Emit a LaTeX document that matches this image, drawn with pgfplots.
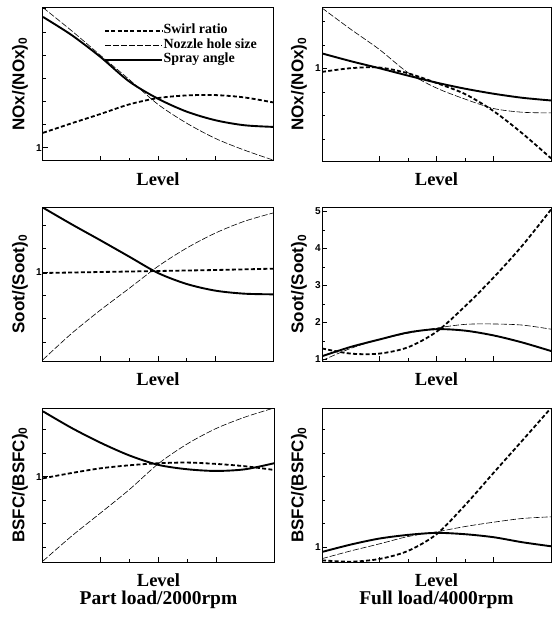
\documentclass[border=0pt]{standalone}
\usepackage{fontspec}
\setmainfont{Liberation Serif}
\newfontfamily\sansf{Liberation Sans}
\usepackage{pgfplots}
\pgfplotsset{compat=1.18}
\begin{document}
\begin{tikzpicture}
\useasboundingbox (0,0) rectangle (557pt,-621pt);
\pgfplotsset{
 panel/.style={scale only axis, height=154pt, anchor=north west,
   xmin=0, xmax=4, xtick={1,2,3}, xticklabels={}, minor x tick num=1,
   tick pos=left, tick align=inside, major tick length=5pt, minor tick length=3pt,
   axis line style={line width=1pt}, tick style={line width=0.6pt, black},
   ytick={1}, minor ytick={0.72,0.79,0.86,0.93,1.07,1.14,1.21,1.28,1.35,1.42},
   /pgf/number format/assume math mode=true,
   yticklabel style={font=\sansf\bfseries\fontsize{10}{12}\selectfont, inner sep=1pt},
   xlabel={Level},
   xlabel style={font=\bfseries\fontsize{18.5}{20}\selectfont, at={(axis description cs:0.5,-0.115)}, anchor=center},
   ylabel style={font=\sansf\bfseries\fontsize{17}{19}\selectfont, at={(axis description cs:-0.1,0.5)}, anchor=center}},
 swirl/.style={black, line width=1.8pt, dash pattern=on 4pt off 2.3pt, smooth},
 nozzle/.style={black, line width=0.6pt, dash pattern=on 6pt off 2pt, smooth},
 spray/.style={black, line width=1.9pt, smooth},
}
% ---------- Panel 1: NOx part load
\begin{axis}[panel, at={(43pt,-7pt)}, width=230pt, ymin=0.96, ymax=1.425,
  ylabel={NOx/(NOx)\textsubscript{0}},
  legend style={at={(axis description cs:0.265,0.895)}, anchor=north west, draw=none, fill=none,
    font=\bfseries\fontsize{14}{15}\selectfont, cells={anchor=west}, row sep=0pt, inner sep=0pt,
    nodes={inner sep=0.5pt, text height=10pt, text depth=3.5pt}},
  legend image code/.code={\draw[#1] (0pt,0pt) -- (57pt,0pt);}]
\addplot[swirl] coordinates {(0,1.045) (0.5,1.074) (1,1.102) (1.5,1.131) (2,1.150) (2.5,1.158) (3,1.159) (3.5,1.152) (4,1.137)};
\addlegendentry{Swirl ratio}
\addplot[nozzle] coordinates {(0,1.423) (0.5,1.353) (1,1.279) (1.5,1.206) (2,1.131) (2.5,1.074) (3,1.028) (3.5,0.993) (4,0.963)};
\addlegendentry{Nozzle hole size}
\addplot[spray] coordinates {(0,1.395) (0.5,1.340) (1,1.274) (1.5,1.200) (2,1.148) (2.5,1.109) (3,1.083) (3.5,1.068) (4,1.063)};
\addlegendentry{Spray angle}
\end{axis}
% ---------- Panel 2: NOx full load
\begin{axis}[panel, at={(322pt,-7pt)}, width=229pt, ymin=0.725, ymax=1.183,
  ylabel={NOx/(NOx)\textsubscript{0}}]
\addplot[swirl] coordinates {(0,0.990) (0.5,1.001) (1,1.003) (1.5,0.986) (2,0.957) (2.5,0.924) (3,0.873) (3.5,0.807) (4,0.733)};
\addplot[nozzle] coordinates {(0,1.180) (0.5,1.117) (1,1.057) (1.5,0.988) (2,0.942) (2.5,0.909) (3,0.881) (3.5,0.870) (4,0.868)};
\addplot[spray] coordinates {(0,1.045) (0.5,1.022) (1,1.001) (1.5,0.979) (2,0.958) (2.5,0.940) (3,0.925) (3.5,0.913) (4,0.905)};
\end{axis}
% ---------- Panel 3: Soot part load
\begin{axis}[panel, at={(43pt,-207pt)}, width=230pt, ymin=0.733, ymax=1.195,
  ylabel={Soot/(Soot)\textsubscript{0}}]
\addplot[swirl] coordinates {(0,0.997) (1,1.000) (2,1.003) (3,1.006) (4,1.010)};
\addplot[nozzle] coordinates {(0,0.737) (0.5,0.816) (1,0.886) (1.5,0.951) (2,1.017) (2.5,1.072) (3,1.117) (3.5,1.152) (4,1.177)};
\addplot[spray] coordinates {(0,1.193) (0.5,1.143) (1,1.095) (1.5,1.046) (2,0.997) (2.5,0.964) (3,0.944) (3.5,0.935) (4,0.933)};
\end{axis}
% ---------- Panel 4: Soot full load
\begin{axis}[panel, at={(322pt,-207pt)}, width=229pt, ymin=0.96, ymax=5.12,
  ytick={1,2,3,4,5}, minor ytick={1.5,2.5,3.5,4.5},
  ylabel={Soot/(Soot)\textsubscript{0}}]
\addplot[swirl] coordinates {(0,1.30) (0.5,1.16) (1,1.16) (1.5,1.33) (2,1.75) (2.5,2.44) (3,3.22) (3.5,4.08) (4,5.05)};
\addplot[nozzle] coordinates {(0,0.973) (0.5,1.30) (1,1.54) (1.5,1.71) (2,1.85) (2.5,1.95) (3,1.96) (3.5,1.93) (4,1.82)};
\addplot[spray] coordinates {(0,1.09) (0.5,1.34) (1,1.54) (1.5,1.73) (2,1.82) (2.5,1.78) (3,1.65) (3.5,1.46) (4,1.23)};
\end{axis}
% ---------- Panel 5: BSFC part load
\begin{axis}[panel, at={(43pt,-408pt)}, width=231pt, ymin=0.745, ymax=1.205, name=p5,
  ylabel={BSFC/(BSFC)\textsubscript{0}}]
\addplot[swirl] coordinates {(0,0.995) (0.5,1.011) (1,1.025) (1.5,1.034) (2,1.040) (2.5,1.042) (3,1.038) (3.5,1.031) (4,1.020)};
\addplot[nozzle] coordinates {(0,0.748) (0.5,0.823) (1,0.892) (1.5,0.962) (2,1.039) (2.5,1.098) (3,1.144) (3.5,1.178) (4,1.205)};
\addplot[spray] coordinates {(0,1.195) (0.5,1.145) (1,1.101) (1.5,1.063) (2,1.035) (2.5,1.022) (3,1.017) (3.5,1.022) (4,1.040)};
\end{axis}
% ---------- Panel 6: BSFC full load
\begin{axis}[panel, at={(322pt,-408pt)}, width=229pt, ymin=0.955, ymax=1.415, name=p6,
  ylabel={BSFC/(BSFC)\textsubscript{0}}]
\addplot[swirl] coordinates {(0,0.960) (0.5,0.956) (1,0.964) (1.5,0.988) (2,1.038) (2.5,1.125) (3,1.222) (3.5,1.318) (4,1.415)};
\addplot[nozzle] coordinates {(0,0.965) (0.5,0.988) (1,1.009) (1.5,1.031) (2,1.045) (2.5,1.061) (3,1.074) (3.5,1.085) (4,1.090)};
\addplot[spray] coordinates {(0,0.985) (0.5,1.007) (1,1.025) (1.5,1.036) (2,1.042) (2.5,1.038) (3,1.029) (3.5,1.014) (4,1.002)};
\end{axis}
\node[font=\bfseries\fontsize{19.5}{21}\selectfont, anchor=center] at ([yshift=-38pt]p5.south) {Part load/2000rpm};
\node[font=\bfseries\fontsize{19.5}{21}\selectfont, anchor=center] at ([yshift=-38pt]p6.south) {Full load/4000rpm};
\end{tikzpicture}
\end{document}
